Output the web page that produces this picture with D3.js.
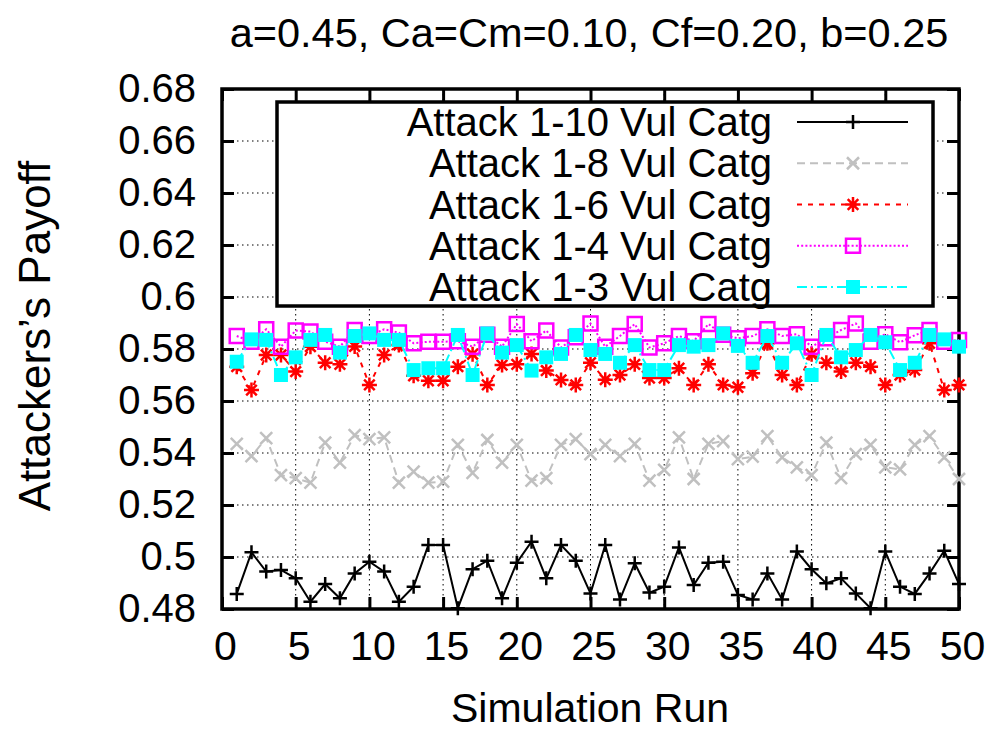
<!DOCTYPE html>
<html>
<head>
<meta charset="utf-8">
<script src="https://cdn.jsdelivr.net/npm/d3@7"></script>
<style>
  html, body { margin: 0; padding: 0; background: #fff; }
  svg text { font-family: "Liberation Sans", Arial, Helvetica, sans-serif; fill: #000; }
</style>
</head>
<body>
<div id="chart"></div>
<script>
// ------------------------------
// Datos
// ------------------------------
const runs = d3.range(1, 51);

const att10 = [0.4858, 0.5018, 0.4944, 0.4950, 0.4918, 0.4828, 0.4896, 0.4841, 0.4937, 0.4982,
  0.4944, 0.4828, 0.4886, 0.5046, 0.5046, 0.4803, 0.4953, 0.4986, 0.4841, 0.4978,
  0.5059, 0.4918, 0.5046, 0.4986, 0.4860, 0.5046, 0.4837, 0.4976, 0.4863, 0.4886,
  0.5037, 0.4892, 0.4978, 0.4982, 0.4854, 0.4837, 0.4937, 0.4837, 0.5021, 0.4953,
  0.4899, 0.4918, 0.4860, 0.4803, 0.5021, 0.4886, 0.4858, 0.4937, 0.5024, 0.4896];

const att8 = [0.5435, 0.5388, 0.5457, 0.5315, 0.5303, 0.5286, 0.5440, 0.5363, 0.5469, 0.5453,
  0.5460, 0.5286, 0.5328, 0.5286, 0.5290, 0.5431, 0.5324, 0.5450, 0.5363, 0.5431,
  0.5294, 0.5303, 0.5431, 0.5453, 0.5396, 0.5431, 0.5388, 0.5435, 0.5294, 0.5335,
  0.5460, 0.5300, 0.5435, 0.5446, 0.5376, 0.5386, 0.5465, 0.5383, 0.5345, 0.5315,
  0.5440, 0.5303, 0.5396, 0.5431, 0.5345, 0.5337, 0.5431, 0.5465, 0.5383, 0.5300];

const att6 = [0.5732, 0.5642, 0.5777, 0.5777, 0.5713, 0.5809, 0.5747, 0.5741, 0.5810, 0.5662,
  0.5777, 0.5815, 0.5697, 0.5678, 0.5678, 0.5732, 0.5780, 0.5662, 0.5738, 0.5741,
  0.5781, 0.5717, 0.5681, 0.5662, 0.5747, 0.5682, 0.5700, 0.5741, 0.5688, 0.5688,
  0.5726, 0.5662, 0.5741, 0.5662, 0.5653, 0.5707, 0.5822, 0.5700, 0.5662, 0.5780,
  0.5747, 0.5713, 0.5747, 0.5732, 0.5662, 0.5700, 0.5719, 0.5822, 0.5642, 0.5662];

const att4 = [0.5850, 0.5828, 0.5876, 0.5809, 0.5871, 0.5867, 0.5828, 0.5809, 0.5873, 0.5850,
  0.5876, 0.5863, 0.5822, 0.5828, 0.5828, 0.5830, 0.5809, 0.5855, 0.5809, 0.5896,
  0.5830, 0.5871, 0.5806, 0.5845, 0.5898, 0.5809, 0.5850, 0.5896, 0.5806, 0.5822,
  0.5850, 0.5830, 0.5896, 0.5855, 0.5841, 0.5850, 0.5876, 0.5850, 0.5857, 0.5809,
  0.5841, 0.5873, 0.5898, 0.5828, 0.5857, 0.5826, 0.5853, 0.5873, 0.5828, 0.5835];

const att3 = [0.5751, 0.5837, 0.5835, 0.5700, 0.5768, 0.5835, 0.5854, 0.5786, 0.5850, 0.5860,
  0.5835, 0.5835, 0.5719, 0.5726, 0.5726, 0.5854, 0.5700, 0.5860, 0.5786, 0.5815,
  0.5717, 0.5768, 0.5781, 0.5854, 0.5796, 0.5781, 0.5747, 0.5815, 0.5719, 0.5719,
  0.5815, 0.5809, 0.5815, 0.5860, 0.5812, 0.5747, 0.5850, 0.5747, 0.5822, 0.5700,
  0.5854, 0.5768, 0.5796, 0.5854, 0.5826, 0.5719, 0.5747, 0.5854, 0.5837, 0.5809];

const seriesNames = ["Attack 1-10 Vul Catg", "Attack 1-8 Vul Catg", "Attack 1-6 Vul Catg",
  "Attack 1-4 Vul Catg", "Attack 1-3 Vul Catg"];

const xTicks = [0, 5, 10, 15, 20, 25, 30, 35, 40, 45, 50];
const yTicks = [0.48, 0.50, 0.52, 0.54, 0.56, 0.58, 0.60, 0.62, 0.64, 0.66, 0.68];
const yTickLabels = ["0.48", "0.5", "0.52", "0.54", "0.56", "0.58", "0.6", "0.62", "0.64", "0.66", "0.68"];

const titulo = "a=0.45, Ca=Cm=0.10, Cf=0.20, b=0.25";
const xTitulo = "Simulation Run";
const yTitulo = "Attackers’s Payoff";

// ------------------------------
// Estilos de cada serie (estilo gnuplot)
// ------------------------------
const estilos = [
  { datos: att10, color: "#000000", dash: null,        marca: "plus" },
  { datos: att8,  color: "#c0c0c0", dash: "8,5",       marca: "cross" },
  { datos: att6,  color: "#ff0000", dash: "5,6",       marca: "star" },
  { datos: att4,  color: "#ff00ff", dash: "2,2.2",     marca: "box" },
  { datos: att3,  color: "#00ffff", dash: "10,4,2,4",  marca: "boxfill" }
];

const W = 988, H = 732;
const FONT = 40;

const svg = d3.select("#chart").append("svg")
  .attr("width", W)
  .attr("height", H)
  .attr("viewBox", `0 0 ${W} ${H}`);

svg.append("rect").attr("width", W).attr("height", H).attr("fill", "#fff");

const x = d3.scaleLinear().domain([0, 50]).range([222, 959]);
const y = d3.scaleLinear().domain([0.48, 0.68]).range([609, 89]);

// Rejilla punteada
const rejilla = svg.append("g").attr("stroke", "#000").attr("stroke-width", 1)
  .attr("stroke-dasharray", "1.5,3.5");

rejilla.selectAll("line.gx")
  .data(xTicks.slice(1, -1))
  .enter().append("line")
  .attr("x1", d => x(d)).attr("x2", d => x(d))
  .attr("y1", y(0.68)).attr("y2", y(0.48));

rejilla.selectAll("line.gy")
  .data(yTicks.slice(1, -1))
  .enter().append("line")
  .attr("x1", x(0)).attr("x2", x(50))
  .attr("y1", d => y(d)).attr("y2", d => y(d));

// Ejes con marcas hacia dentro (y espejo)
function estiloEje(g) {
  g.select(".domain").remove();
  g.selectAll(".tick line").attr("stroke", "#000").attr("stroke-width", 3);
  g.selectAll(".tick text")
    .attr("font-size", FONT)
    .style("font-family", "'Liberation Sans', Arial, sans-serif")
    .attr("fill", "#000");
}

svg.append("g")
  .attr("transform", `translate(0,${y(0.48)})`)
  .call(d3.axisBottom(x).tickValues(xTicks).tickSizeInner(-12).tickSizeOuter(0).tickPadding(22))
  .call(estiloEje)
  .selectAll(".tick text").attr("dx", 3).attr("font-size", 41);

svg.append("g")
  .attr("transform", `translate(0,${y(0.68)})`)
  .call(d3.axisTop(x).tickValues(xTicks).tickSizeInner(-12).tickSizeOuter(0).tickFormat(""))
  .call(estiloEje);

svg.append("g")
  .attr("transform", `translate(${x(0)},0)`)
  .call(d3.axisLeft(y).tickValues(yTicks).tickSizeInner(-12).tickSizeOuter(0).tickPadding(26)
    .tickFormat((d, i) => yTickLabels[i]))
  .call(estiloEje);

svg.append("g")
  .attr("transform", `translate(${x(50)},0)`)
  .call(d3.axisRight(y).tickValues(yTicks).tickSizeInner(-12).tickSizeOuter(0).tickFormat(""))
  .call(estiloEje);

// Marco
svg.append("rect")
  .attr("x", x(0)).attr("y", y(0.68))
  .attr("width", x(50) - x(0)).attr("height", y(0.48) - y(0.68))
  .attr("fill", "none").attr("stroke", "#000").attr("stroke-width", 3.5);

// Marcadores
function marcaPath(tipo) {
  switch (tipo) {
    case "plus": return "M-7,0H7M0,-7V7";
    case "cross": return "M-6,-6L6,6M-6,6L6,-6";
    case "star": return "M-7.5,0H7.5M0,-7.5V7.5M-5.3,-5.3L5.3,5.3M-5.3,5.3L5.3,-5.3";
    case "box":
    case "boxfill": return "M-7,-7H7V7H-7Z";
  }
}

function dibujarMarca(sel, est) {
  sel.attr("d", marcaPath(est.marca))
    .attr("stroke", est.color)
    .attr("stroke-width", est.marca === "boxfill" ? 0 : 2.5)
    .attr("fill", est.marca === "boxfill" ? est.color : "none");
}

const linea = d3.line()
  .x((d, i) => x(runs[i]))
  .y(d => y(d));

// Leyenda
const ley = svg.append("g");
ley.append("rect")
  .attr("x", 277).attr("y", 102).attr("width", 656).attr("height", 204)
  .attr("fill", "#fff").attr("stroke", "#000").attr("stroke-width", 3.5);

const filaY = d3.scalePoint().domain(seriesNames).range([122, 287]);

seriesNames.forEach((nombre, i) => {
  const est = estilos[i];
  const fy = filaY(nombre);
  ley.append("text")
    .attr("x", 772).attr("y", fy).attr("dy", "0.35em")
    .attr("text-anchor", "end")
    .attr("font-size", FONT)
    .text(nombre);
  ley.append("line")
    .attr("x1", 797).attr("x2", 908).attr("y1", fy).attr("y2", fy)
    .attr("stroke", est.color).attr("stroke-width", 2)
    .attr("stroke-dasharray", est.dash);
  ley.append("path")
    .attr("transform", `translate(853,${fy})`)
    .call(dibujarMarca, est);
});

// Series
estilos.forEach(est => {
  const g = svg.append("g");
  g.append("path")
    .datum(est.datos)
    .attr("d", linea)
    .attr("fill", "none")
    .attr("stroke", est.color)
    .attr("stroke-width", 2)
    .attr("stroke-dasharray", est.dash);
  g.selectAll("path.marca")
    .data(est.datos)
    .enter().append("path")
    .attr("class", "marca")
    .attr("transform", (d, i) => `translate(${x(runs[i])},${y(d)})`)
    .call(dibujarMarca, est);
});

// Títulos
svg.append("text")
  .attr("x", 589).attr("y", 47)
  .attr("text-anchor", "middle")
  .attr("font-size", 41.5)
  .text(titulo);

svg.append("text")
  .attr("x", 590).attr("y", 722)
  .attr("text-anchor", "middle")
  .attr("font-size", 41)
  .text(xTitulo);

svg.append("text")
  .attr("transform", "translate(50,336) rotate(-90)")
  .attr("text-anchor", "middle")
  .attr("font-size", 44)
  .text(yTitulo);
</script>
</body>
</html>
